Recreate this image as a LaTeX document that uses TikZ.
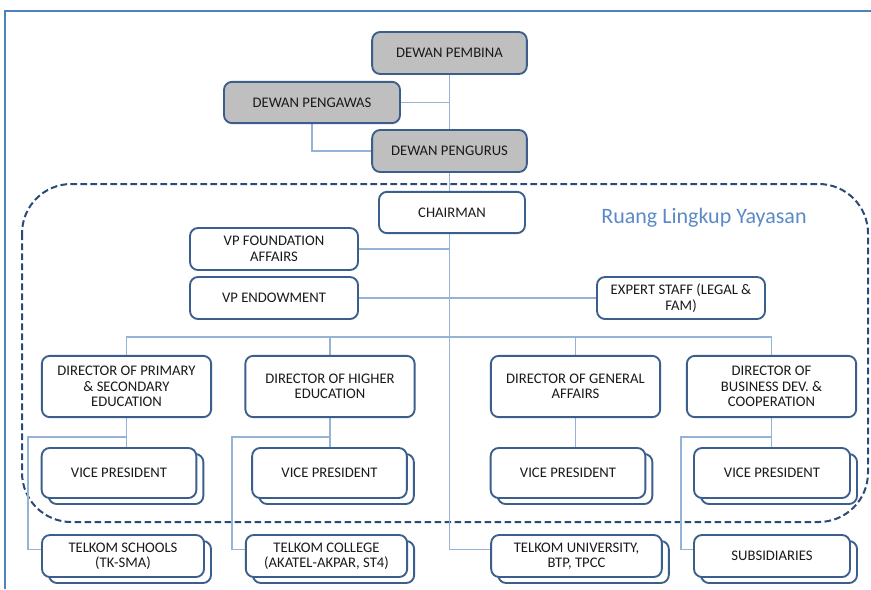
\documentclass[tikz,border=0pt]{standalone}
\usepackage{fontspec}
\setmainfont{Carlito}
\usetikzlibrary{positioning, shadows, backgrounds}

\definecolor{frameblue}{HTML}{4F81BD}
\definecolor{boxblue}{HTML}{3C5E8C}
\definecolor{linkblue}{HTML}{95B3D7}
\definecolor{scopeblue}{HTML}{2B4A7A}
\definecolor{boardgray}{HTML}{BFBFBF}
\definecolor{textdark}{HTML}{1A1A1A}
\definecolor{titleblue}{HTML}{5A8AC6}

\begin{document}
\begin{tikzpicture}[
	x=0.75pt, y=-0.75pt,
	% node styles
	unit/.style={
		rectangle,
		draw=boxblue,
		fill=white,
		line width=1.4pt,
		rounded corners=6pt,
		align=center,
		text=textdark,
		inner sep=2pt,
		font=\fontsize{11}{11.6}\selectfont
	},
	board/.style={unit, fill=boardgray},
	stacked/.style={
		unit,
		copy shadow={shadow xshift=5.25pt, shadow yshift=-4.5pt,
			draw=boxblue, fill=white, line width=1.4pt}
	},
	% connector styles
	link/.style={draw=linkblue, line width=0.8pt},
	scopeline/.style={draw=scopeblue, line width=1.5pt, dash pattern=on 5pt off 2.5pt, rounded corners=37pt},
	frameline/.style={draw=frameblue, line width=1.8pt}
	]
	\useasboundingbox (0,0) rectangle (871,589);

	% board level
	\node[board, minimum width=116pt, minimum height=31.5pt] (pembina) at (449.5,53) {DEWAN PEMBINA};
	\node[board, minimum width=132pt, minimum height=31pt] (pengawas) at (312,102.5) {DEWAN PENGAWAS};
	\node[board, minimum width=116pt, minimum height=31.5pt] (pengurus) at (449.5,151) {DEWAN PENGURUS};

	% foundation level
	\node[unit, minimum width=109.5pt, minimum height=31pt] (chairman) at (452,212.5) {CHAIRMAN};
	\node[font=\fontsize{16.5}{18}\selectfont, text=titleblue] (scopetitle) at (704,218) {Ruang Lingkup Yayasan};
	\node[unit, minimum width=126pt, minimum height=31.5pt] (vpfound) at (274,249) {VP FOUNDATION\\AFFAIRS};
	\node[unit, minimum width=126pt, minimum height=31.5pt] (vpendow) at (274,298) {VP ENDOWMENT};
	\node[unit, minimum width=126pt, minimum height=31.5pt] (expert) at (681,298) {EXPERT STAFF (LEGAL \&\\FAM)};

	% directors
	\node[unit, minimum width=127pt, minimum height=46pt] (dirprim) at (126.5,386.5) {DIRECTOR OF PRIMARY\\\& SECONDARY\\EDUCATION};
	\node[unit, minimum width=127pt, minimum height=46pt] (dirhigh) at (330,386.5) {DIRECTOR OF HIGHER\\EDUCATION};
	\node[unit, minimum width=127pt, minimum height=46pt] (dirgen) at (575.5,386.5) {DIRECTOR OF GENERAL\\AFFAIRS};
	\node[unit, minimum width=127pt, minimum height=46pt] (dirbus) at (771.5,386.5) {DIRECTOR OF\\BUSINESS DEV. \&\\COOPERATION};

	% vice presidents
	\node[stacked, minimum width=116pt, minimum height=37.5pt] (vpprim) at (119,473) {VICE PRESIDENT};
	\node[stacked, minimum width=116pt, minimum height=37.5pt] (vphigh) at (329.5,473) {VICE PRESIDENT};
	\node[stacked, minimum width=116pt, minimum height=37.5pt] (vpgen) at (568,473) {VICE PRESIDENT};
	\node[stacked, minimum width=117pt, minimum height=37.5pt] (vpbus) at (772,473) {VICE PRESIDENT};

	% units outside the foundation
	\node[stacked, minimum width=121.5pt, minimum height=31.5pt] (schools) at (123,556) {TELKOM SCHOOLS\\(TK-SMA)};
	\node[stacked, minimum width=121pt, minimum height=31.5pt] (college) at (326.5,556) {TELKOM COLLEGE\\(AKATEL-AKPAR, ST4)};
	\node[stacked, minimum width=128pt, minimum height=31.5pt] (univ) at (576.5,556) {TELKOM UNIVERSITY,\\BTP, TPCC};
	\node[stacked, minimum width=117pt, minimum height=31.5pt] (subsid) at (772,556) {SUBSIDIARIES};

	% branch points
	\coordinate (bus) at (449,337);
	\coordinate (brprim) at (28,437);
	\coordinate (brhigh) at (232,437);
	\coordinate (brbus) at (681,437);

	\begin{pgfonlayer}{background}
		% frame and scope of the foundation
		\draw[frameline] (5,589) -- (5,11) -- (871,11);
		\draw[scopeline] (22,184) rectangle (868,522);

		% connecting lines
		\draw[link] (pembina.south) |- ([yshift=5pt]univ.west);
		\draw[link] (pengawas.east) -- (pengawas.east -| pembina.south);
		\draw[link] (pengawas.south) |- (pengurus.west);
		\draw[link] (vpfound.east) -- (vpfound.east -| pembina.south);
		\draw[link] (vpendow.east) -- (expert.west);
		\draw[link] (dirprim.north) |- (dirbus.north |- bus) -- (dirbus.north);
		\draw[link] (dirhigh.north) -- (dirhigh.north |- bus);
		\draw[link] (dirgen.north) -- (dirgen.north |- bus);
		\draw[link] (dirprim.south) -- (dirprim.south |- vpprim.north);
		\draw[link] (dirhigh.south) -- (dirhigh.south |- vphigh.north);
		\draw[link] (dirgen.south) -- (dirgen.south |- vpgen.north);
		\draw[link] (dirbus.south) -- (dirbus.south |- vpbus.north);
		\draw[link] (dirprim.south |- brprim) -- (brprim) |- ([yshift=5pt]schools.west);
		\draw[link] (dirhigh.south |- brhigh) -- (brhigh) |- ([yshift=5pt]college.west);
		\draw[link] (dirbus.south |- brbus) -- (brbus) |- ([yshift=5pt]subsid.west);
	\end{pgfonlayer}
\end{tikzpicture}
\end{document}
